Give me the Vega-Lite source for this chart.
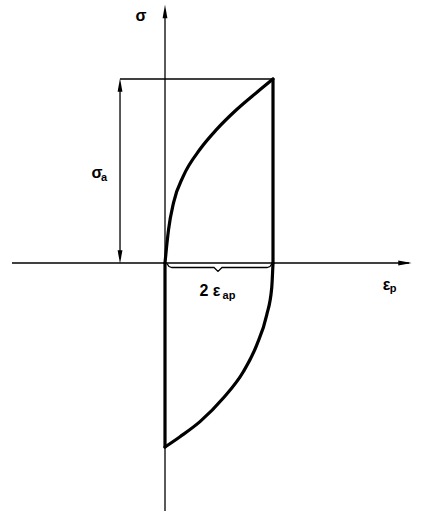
{
  "$schema": "https://vega.github.io/schema/vega-lite/v6.json",
  "width": 421,
  "height": 522,
  "autosize": {"type": "fit", "contains": "padding"},
  "padding": 0,
  "background": "white",
  "config": {"view": {"stroke": null}},
  "datasets": {
    "thin": [
      {"seg": "xaxis", "ord": 1, "x": -2.833, "y": 0},
      {"seg": "xaxis", "ord": 2, "x": 4.52, "y": 0},
      {"seg": "yaxis", "ord": 1, "x": 0, "y": -1.348},
      {"seg": "yaxis", "ord": 2, "x": 0, "y": 1.36},
      {"seg": "top", "ord": 1, "x": -0.833, "y": 1},
      {"seg": "top", "ord": 2, "x": 2, "y": 1},
      {"seg": "darrow", "ord": 1, "x": -0.833, "y": 0.96},
      {"seg": "darrow", "ord": 2, "x": -0.833, "y": 0.04},
      {"seg": "brace", "ord": 1, "x": 0.037, "y": -0.003},
      {"seg": "brace", "ord": 2, "x": 0.074, "y": -0.019},
      {"seg": "brace", "ord": 3, "x": 0.13, "y": -0.0245},
      {"seg": "brace", "ord": 4, "x": 0.907, "y": -0.0245},
      {"seg": "brace", "ord": 5, "x": 0.981, "y": -0.046},
      {"seg": "brace", "ord": 6, "x": 1.056, "y": -0.0245},
      {"seg": "brace", "ord": 7, "x": 1.889, "y": -0.0245},
      {"seg": "brace", "ord": 8, "x": 1.944, "y": -0.019},
      {"seg": "brace", "ord": 9, "x": 1.981, "y": -0.003}
    ],
    "loop": [
      {"seg": "upper", "ord": 1, "x": 0, "y": 0},
      {"seg": "upper", "ord": 2, "x": 0.025, "y": 0.075},
      {"seg": "upper", "ord": 3, "x": 0.065, "y": 0.18},
      {"seg": "upper", "ord": 4, "x": 0.16, "y": 0.33},
      {"seg": "upper", "ord": 5, "x": 0.339, "y": 0.472},
      {"seg": "upper", "ord": 6, "x": 0.648, "y": 0.618},
      {"seg": "upper", "ord": 7, "x": 0.957, "y": 0.726},
      {"seg": "upper", "ord": 8, "x": 1.328, "y": 0.834},
      {"seg": "upper", "ord": 9, "x": 1.698, "y": 0.927},
      {"seg": "upper", "ord": 10, "x": 2, "y": 1},
      {"seg": "right", "ord": 1, "x": 2, "y": 1},
      {"seg": "right", "ord": 2, "x": 2, "y": 0},
      {"seg": "lower", "ord": 1, "x": 0, "y": -1},
      {"seg": "lower", "ord": 2, "x": 0.278, "y": -0.944},
      {"seg": "lower", "ord": 3, "x": 0.648, "y": -0.862},
      {"seg": "lower", "ord": 4, "x": 1.08, "y": -0.734},
      {"seg": "lower", "ord": 5, "x": 1.45, "y": -0.591},
      {"seg": "lower", "ord": 6, "x": 1.698, "y": -0.446},
      {"seg": "lower", "ord": 7, "x": 1.883, "y": -0.283},
      {"seg": "lower", "ord": 8, "x": 1.976, "y": -0.136},
      {"seg": "lower", "ord": 9, "x": 2, "y": 0},
      {"seg": "left", "ord": 1, "x": 0, "y": -1},
      {"seg": "left", "ord": 2, "x": 0, "y": 0}
    ],
    "heads": [
      {"dir": "up", "x": 0, "y": 1.367},
      {"dir": "right", "x": 4.444, "y": 0},
      {"dir": "up", "x": -0.833, "y": 0.967},
      {"dir": "down", "x": -0.833, "y": 0.033}
    ],
    "labels": [
      {"kind": "main", "x": -0.444, "y": 1.342, "text": "σ"},
      {"kind": "main", "x": -1.26, "y": 0.489, "text": "σ"},
      {"kind": "main", "x": 0.833, "y": -0.152, "text": "2 ε"},
      {"kind": "main", "x": 4.102, "y": -0.12, "text": "ε"},
      {"kind": "sub", "x": -1.13, "y": 0.462, "text": "a"},
      {"kind": "sub", "x": 1.185, "y": -0.179, "text": "ap"},
      {"kind": "sub", "x": 4.222, "y": -0.144, "text": "p"}
    ]
  },
  "layer": [
    {
      "data": {"name": "thin"},
      "mark": {"type": "line", "color": "black", "strokeWidth": 1.3, "clip": false},
      "encoding": {
        "x": {"field": "x", "type": "quantitative", "axis": null, "scale": {"domain": [-3.0556, 4.7407], "nice": false, "zero": false}},
        "y": {"field": "y", "type": "quantitative", "axis": null, "scale": {"domain": [-1.4076, 1.4293], "nice": false, "zero": false}},
        "detail": {"field": "seg", "type": "nominal"},
        "order": {"field": "ord", "type": "quantitative"}
      }
    },
    {
      "data": {"name": "loop"},
      "mark": {"type": "line", "color": "black", "strokeWidth": 3.2, "interpolate": "monotone", "strokeCap": "round", "strokeJoin": "round", "clip": false},
      "encoding": {
        "x": {"field": "x", "type": "quantitative"},
        "y": {"field": "y", "type": "quantitative"},
        "detail": {"field": "seg", "type": "nominal"},
        "order": {"field": "ord", "type": "quantitative"}
      }
    },
    {
      "data": {"name": "heads"},
      "mark": {"type": "point", "filled": true, "color": "black", "opacity": 1, "size": 180, "strokeWidth": 0},
      "encoding": {
        "x": {"field": "x", "type": "quantitative"},
        "y": {"field": "y", "type": "quantitative"},
        "shape": {"field": "dir", "type": "nominal", "legend": null, "scale": {"domain": ["up", "down", "right"], "range": ["M0,-1L0.36,1L-0.36,1Z", "M0,1L0.36,-1L-0.36,-1Z", "M1,0L-1,0.36L-1,-0.36Z"]}}
      }
    },
    {
      "data": {"name": "labels"},
      "transform": [{"filter": "datum.kind === 'main'"}],
      "mark": {"type": "text", "font": "Liberation Sans", "fontWeight": "bold", "fontSize": 16, "align": "center", "baseline": "middle", "color": "black"},
      "encoding": {
        "x": {"field": "x", "type": "quantitative"},
        "y": {"field": "y", "type": "quantitative"},
        "text": {"field": "text", "type": "nominal"}
      }
    },
    {
      "data": {"name": "labels"},
      "transform": [{"filter": "datum.kind === 'sub'"}],
      "mark": {"type": "text", "font": "Liberation Sans", "fontWeight": "bold", "fontSize": 11, "align": "center", "baseline": "middle", "color": "black"},
      "encoding": {
        "x": {"field": "x", "type": "quantitative"},
        "y": {"field": "y", "type": "quantitative"},
        "text": {"field": "text", "type": "nominal"}
      }
    }
  ]
}
